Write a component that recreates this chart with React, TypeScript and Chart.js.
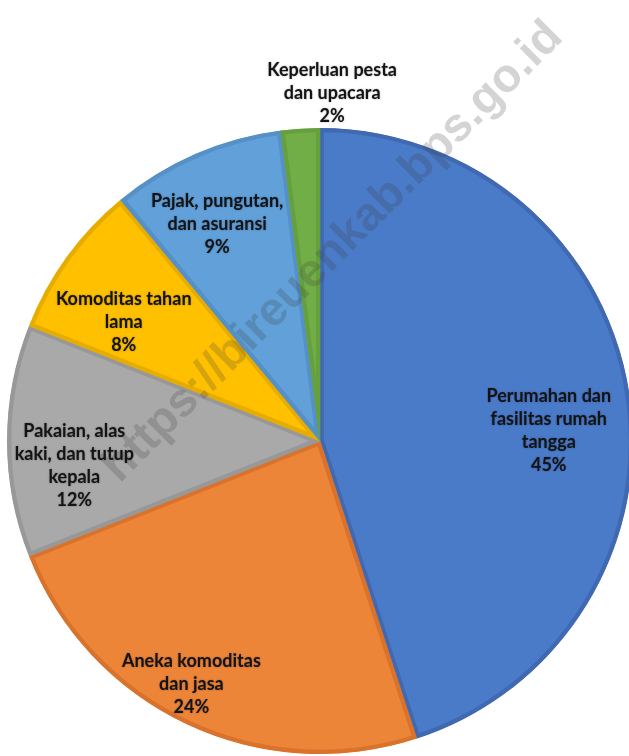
import React, { useEffect, useRef } from "react";
import { Chart, registerables } from "chart.js";

Chart.register(...registerables);

const categories: string[][] = [
  ["Perumahan dan", "fasilitas rumah", "tangga"],
  ["Aneka komoditas", "dan jasa"],
  ["Pakaian, alas", "kaki, dan tutup", "kepala"],
  ["Komoditas tahan", "lama"],
  ["Pajak, pungutan,", "dan asuransi"],
  ["Keperluan pesta", "dan upacara"],
];
const shares: number[] = [45, 24, 12, 8, 9, 2];
const percentLabels: string[] = ["45%", "24%", "12%", "8%", "9%", "2%"];

const fillColors = ["#4A7BC9", "#ED8539", "#A9A9A9", "#FFC000", "#61A0D9", "#72AE48"];
const borderColors = ["#4169B2", "#D9722B", "#989898", "#E6AD00", "#5590C6", "#66A03E"];

// label placement: radial fraction of the outer radius + small nudges
const labelRadius = [0.74, 0.86, 0.785, 0.775, 0.755, 1.113];
const labelNudgeX = [0, -14, 0, 0, -9, 34];
const labelNudgeY = [26, 0, 25, 24, 0, 0];

const watermark = "https://bireuenkab.bps.go.id";

const labelPlugin = {
  id: "sliceLabels",
  afterDatasetsDraw(chart: any) {
    const ctx = chart.ctx;
    const meta = chart.getDatasetMeta(0);
    // watermark
    ctx.save();
    ctx.translate(333, 252);
    ctx.rotate(-Math.PI / 4);
    ctx.font = "bold 47px 'Liberation Sans', Arial, sans-serif";
    ctx.fillStyle = "rgba(60,60,60,0.22)";
    ctx.textAlign = "center";
    ctx.textBaseline = "middle";
    ctx.fillText(watermark, 0, 0);
    ctx.restore();

    ctx.save();
    ctx.font = "bold 18px Lato, 'Open Sans', sans-serif";
    ctx.fillStyle = "#141414";
    ctx.shadowColor = "rgba(0,0,30,0.35)";
    ctx.shadowBlur = 2;
    ctx.textAlign = "center";
    ctx.textBaseline = "middle";
    const lineH = 23;
    meta.data.forEach((arc: any, i: number) => {
      const p = arc.getProps(["x", "y", "startAngle", "endAngle", "outerRadius"], true);
      const mid = (p.startAngle + p.endAngle) / 2;
      const r = p.outerRadius * labelRadius[i];
      const cx = p.x + Math.cos(mid) * r + labelNudgeX[i];
      const cy = p.y + Math.sin(mid) * r + labelNudgeY[i];
      const lines = [...categories[i], percentLabels[i]];
      const top = cy - ((lines.length - 1) * lineH) / 2;
      lines.forEach((t, k) => ctx.fillText(t, cx, top + k * lineH));
    });
    ctx.restore();
  },
};

export default function App() {
  const ref = useRef<HTMLCanvasElement | null>(null);
  useEffect(() => {
    document.body.style.margin = "0";
    const canvas = ref.current!;
    const chart = new Chart(canvas, {
      type: "pie",
      data: {
        labels: categories.map((c) => c.join(" ")),
        datasets: [
          {
            data: shares,
            backgroundColor: fillColors,
            borderColor: borderColors,
            borderWidth: 4,
            borderAlign: "inner",
          } as any,
        ],
      },
      options: {
        responsive: false,
        devicePixelRatio: 1,
        animation: false,
        layout: { padding: { left: 7, top: 128, right: 47, bottom: 46 } },
        plugins: {
          legend: { display: false },
          tooltip: { enabled: false },
        },
      },
      plugins: [labelPlugin],
    });
    return () => chart.destroy();
  }, []);
  return (
    <div style={{ width: 629, height: 756, overflow: "hidden", position: "relative", background: "#fff" }}>
      <canvas ref={ref} width={680} height={800} style={{ width: 680, height: 800, display: "block" }} />
    </div>
  );
}
